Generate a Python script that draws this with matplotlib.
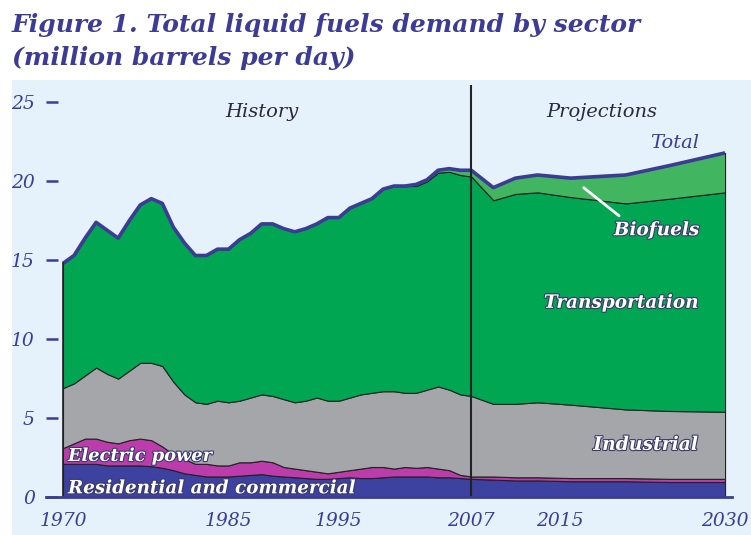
import matplotlib
matplotlib.use("Agg")
import matplotlib.pyplot as plt
import matplotlib.patheffects as pe
import numpy as np

# years: annual history, sparse projection points
years = list(range(1970, 2008)) + [2009, 2011, 2013, 2016, 2021, 2025, 2030]

# million barrels per day, by sector
residential = [2.1, 2.1, 2.1, 2.1, 2.0, 2.0, 2.0, 2.0, 1.95, 1.85,
               1.7, 1.5, 1.4, 1.3, 1.3, 1.3, 1.35, 1.4, 1.45, 1.35,
               1.3, 1.25, 1.2, 1.15, 1.15, 1.2, 1.25, 1.2, 1.2, 1.25,
               1.3, 1.3, 1.3, 1.3, 1.25, 1.25, 1.2, 1.15,
               1.1, 1.05, 1.05, 1.0, 1.0, 0.95, 0.95]
electric = [1.0, 1.3, 1.6, 1.6, 1.5, 1.4, 1.6, 1.7, 1.65, 1.35,
            1.0, 0.9, 0.7, 0.8, 0.7, 0.7, 0.85, 0.8, 0.85, 0.85,
            0.6, 0.55, 0.5, 0.45, 0.35, 0.4, 0.45, 0.6, 0.7, 0.65,
            0.5, 0.6, 0.55, 0.6, 0.55, 0.45, 0.2, 0.15,
            0.2, 0.2, 0.2, 0.2, 0.2, 0.2, 0.2]
industrial = [3.8, 3.8, 4.0, 4.5, 4.3, 4.1, 4.4, 4.8, 4.9, 5.1,
              4.6, 4.1, 3.9, 3.8, 4.1, 4.0, 3.9, 4.1, 4.2, 4.2,
              4.3, 4.2, 4.4, 4.7, 4.6, 4.5, 4.6, 4.7, 4.7, 4.8,
              4.9, 4.7, 4.75, 4.9, 5.2, 5.1, 5.1, 5.1,
              4.6, 4.65, 4.75, 4.65, 4.35, 4.3, 4.25]
transportation = [7.9, 8.1, 8.7, 9.2, 9.1, 8.9, 9.5, 10.0, 10.4, 10.3,
                  9.8, 9.6, 9.3, 9.4, 9.6, 9.7, 10.2, 10.4, 10.8, 10.9,
                  10.8, 10.8, 10.9, 11.0, 11.6, 11.6, 12.0, 12.1, 12.3, 12.8,
                  13.0, 13.1, 13.1, 13.2, 13.55, 13.8, 13.9, 13.9,
                  12.9, 13.3, 13.3, 13.15, 13.05, 13.45, 13.9]
biofuels = [0.0] * 32 + [0.1, 0.1, 0.15, 0.2, 0.3, 0.4,
                         0.8, 1.0, 1.1, 1.2, 1.8, 2.1, 2.5]

xtick_years = [1970, 1985, 1995, 2007, 2015, 2030]
ytick_vals = [0, 5, 10, 15, 20, 25]

navy = "#3c3c96"
bg = "#e5f1fb"
colors = ["#3d41a0", "#bd3cab", "#a4a6a9", "#00a651", "#42b560"]

fig = plt.figure(figsize=(7.51, 5.35), dpi=100)
fig.patches.append(plt.Rectangle((12 / 751, 0), 1, 455 / 535, transform=fig.transFigure,
                                 facecolor=bg, edgecolor="none", zorder=-10))

ax = fig.add_axes([46 / 751, 1 - 497 / 535, 686 / 751, 412 / 535])
ax.set_facecolor("none")

layers = [residential, electric, industrial, transportation, biofuels]
ax.stackplot(years, layers, colors=colors, edgecolor="#222222", linewidth=0.8)
total = np.sum(np.array(layers), axis=0)
ax.plot(years, total, color=navy, linewidth=2.6, solid_capstyle="butt")
ax.plot([1970, 1970], [0, total[0]], color="#222222", linewidth=1.2)

ax.axvline(2007, color="#222222", linewidth=1.5)

ax.set_xlim(1968.46, 2030.63)
ax.set_ylim(0, 26.1)

for s in ["top", "right", "left"]:
    ax.spines[s].set_visible(False)
ax.spines["bottom"].set_color(navy)
ax.spines["bottom"].set_linewidth(2)

ax.set_yticks(ytick_vals)
ax.set_xticks(xtick_years)
ax.tick_params(axis="y", direction="in", length=8.5, width=1.8, color=navy, pad=8)
ax.tick_params(axis="x", length=0, pad=11)
for lab in ax.get_yticklabels() + ax.get_xticklabels():
    lab.set_family("DejaVu Serif")
    lab.set_style("italic")
    lab.set_fontsize(13.5)
    lab.set_color(navy)

ax.text(1988.0, 24.4, "History", family="DejaVu Serif", style="italic",
        fontsize=14, color="#2a2a3a", ha="center", va="center")
ax.text(2018.8, 24.4, "Projections", family="DejaVu Serif", style="italic",
        fontsize=14, color="#2a2a3a", ha="center", va="center")
ax.text(2025.4, 22.4, "Total", family="DejaVu Serif", style="italic",
        fontsize=14, color=navy, ha="center", va="center")

shadow = [pe.withStroke(linewidth=1.6, foreground="#3a3a6a")]
lab_kw = dict(family="DejaVu Serif", style="italic", weight="bold",
              color="white", path_effects=shadow, va="center")
ax.text(2023.8, 16.9, "Biofuels", fontsize=13.3, ha="center", **lab_kw)
ax.annotate("", xy=(2017.0, 19.7), xytext=(2020.6, 17.7),
            arrowprops=dict(arrowstyle="-", color="white", linewidth=2))
ax.text(2020.6, 12.3, "Transportation", fontsize=13.3, ha="center", **lab_kw)
ax.text(2022.8, 3.3, "Industrial", fontsize=13.5, ha="center", **lab_kw)
ax.text(1970.45, 2.6, "Electric power", fontsize=12.8, ha="left", **lab_kw)
ax.text(1970.45, 0.55, "Residential and commercial", fontsize=13.2, ha="left", **lab_kw)

title_kw = dict(family="DejaVu Serif", style="italic", weight="bold",
                color=navy, fontsize=18, ha="left", va="baseline")
fig.text(12 / 751, 1 - 32 / 535, "Figure 1. Total liquid fuels demand by sector", **title_kw)
fig.text(12 / 751, 1 - 65 / 535, "(million barrels per day)", **title_kw)

fig.savefig("out.png", dpi=100)
